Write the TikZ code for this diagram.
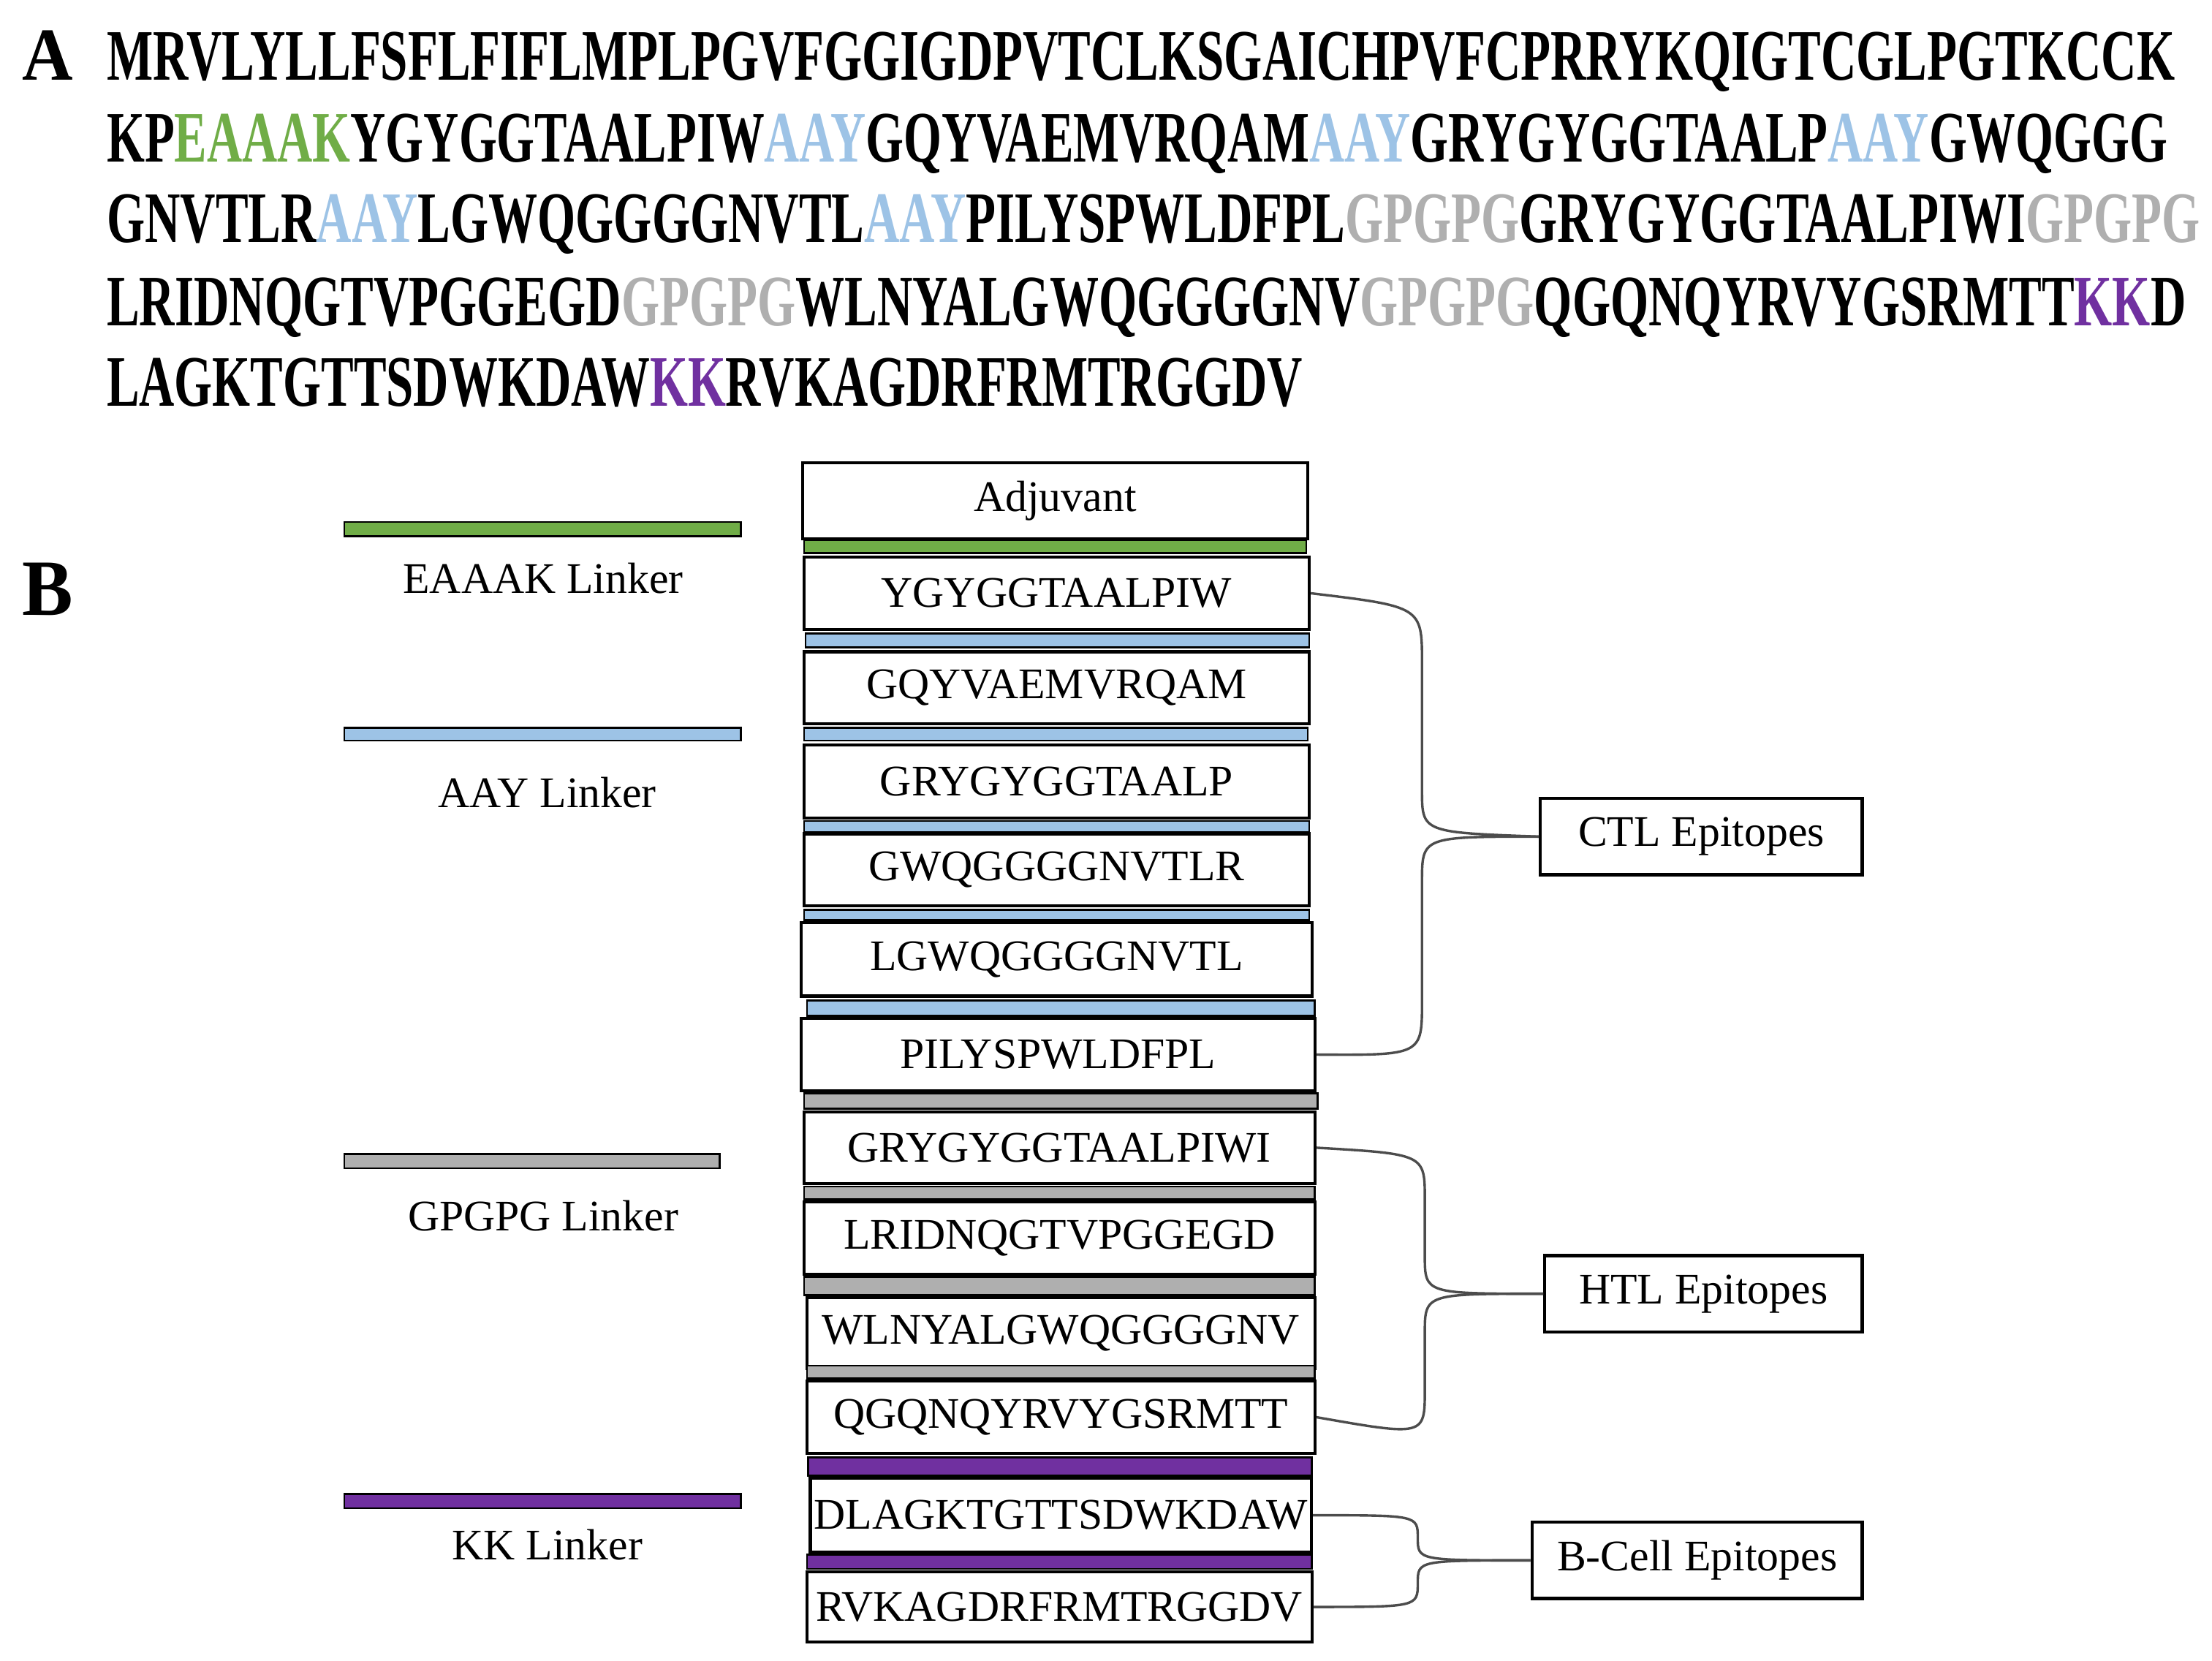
\documentclass[tikz,border=0pt]{standalone}
\usepackage{fontspec}
\setmainfont{Liberation Serif}
\usepackage{graphicx}
\definecolor{lg}{RGB}{112,173,71}
\definecolor{lb}{RGB}{157,195,230}
\definecolor{gy}{RGB}{175,175,175}
\definecolor{pu}{RGB}{112,48,160}
\newcommand{\G}[1]{\textcolor{lg}{#1}}
\newcommand{\Bl}[1]{\textcolor{lb}{#1}}
\newcommand{\Gy}[1]{\textcolor{gy}{#1}}
\newcommand{\Pu}[1]{\textcolor{pu}{#1}}
\begin{document}
\begin{tikzpicture}[x=0.01cm,y=-0.01cm,
 box/.style={draw,line width=0.6pt,minimum width=3.58cm,inner sep=0,font=\fontsize{8.8}{10}\selectfont},
 bar/.style={draw=black,line width=0.4pt},
 lbl/.style={font=\fontsize{8.8}{10}\selectfont},
 seq/.style={anchor=base west,inner sep=0},
 br/.style={line width=0.5pt,draw=black!70}]
\useasboundingbox (0,0) rectangle (1568,1177);
\node[anchor=base west,inner sep=0] (A) at (15,57) {\resizebox{0.36cm}{0.35cm}{\textbf{A}}};
\node[anchor=base west,inner sep=0] (B) at (15,436) {\resizebox{0.36cm}{0.37cm}{\textbf{B}}};
\node[seq] (l1) at (75,57) {\resizebox{14.65cm}{0.34cm}{\textbf{MRVLYLLFSFLFIFLMPLPGVFGGIGDPVTCLKSGAICHPVFCPRRYKQIGTCGLPGTKCCK}}};
\node[seq] (l2) at (75,115) {\resizebox{14.6cm}{0.34cm}{\textbf{KP\G{EAAAK}YGYGGTAALPIW\Bl{AAY}GQYVAEMVRQAM\Bl{AAY}GRYGYGGTAALP\Bl{AAY}GWQGGG}}};
\node[seq] (l3) at (75,172) {\resizebox{14.83cm}{0.34cm}{\textbf{GNVTLR\Bl{AAY}LGWQGGGGNVTL\Bl{AAY}PILYSPWLDFPL\Gy{GPGPG}GRYGYGGTAALPIWI\Gy{GPGPG}}}};
\node[seq] (l4) at (75,231) {\resizebox{14.73cm}{0.34cm}{\textbf{LRIDNQGTVPGGEGD\Gy{GPGPG}WLNYALGWQGGGGNV\Gy{GPGPG}QGQNQYRVYGSRMTT\Pu{KK}D}}};
\node[seq] (l5) at (75,288) {\resizebox{8.47cm}{0.34cm}{\textbf{LAGKTGTTSDWKDAW\Pu{KK}RVKAGDRFRMTRGGDV}}};
% column
\node[box,minimum height=0.54cm] (adj) at (748,355) {Adjuvant};
\fill[lg,bar] (570,383) rectangle (926,392);
\node[box,minimum height=0.51cm] (e1) at (749,420.5) {YGYGGTAALPIW};
\fill[lb,bar] (571,449) rectangle (928,459);
\node[box,minimum height=0.51cm] (e2) at (749,487.5) {GQYVAEMVRQAM};
\fill[lb,bar] (570,516) rectangle (927,525);
\node[box,minimum height=0.52cm] (e3) at (749,554) {GRYGYGGTAALP};
\fill[lb,bar] (570,582) rectangle (928,590);
\node[box,minimum height=0.51cm] (e4) at (749,616.5) {GWQGGGGNVTLR};
\fill[lb,bar] (570,645) rectangle (928,652);
\node[box,minimum height=0.52cm,minimum width=3.62cm] (e5) at (749,680) {LGWQGGGGNVTL};
\fill[lb,bar] (572,709) rectangle (932,720);
\node[box,minimum height=0.51cm,minimum width=3.64cm] (e6) at (750,747.5) {PILYSPWLDFPL};
\fill[gy,bar] (570,775) rectangle (934,786);
\node[box,minimum height=0.51cm,minimum width=3.62cm] (h1) at (751,813.5) {GRYGYGGTAALPIWI};
\fill[gy,bar] (570,841) rectangle (932,850);
\node[box,minimum height=0.51cm,minimum width=3.62cm] (h2) at (751,877.5) {LRIDNQGTVPGGEGD};
\fill[gy,bar] (570,905) rectangle (932,918);
\node[box,minimum height=0.50cm,minimum width=3.6cm] (h3) at (752,945) {WLNYALGWQGGGGNV};
\fill[gy,bar] (572,968) rectangle (932,977);
\node[box,minimum height=0.51cm,minimum width=3.6cm] (h4) at (752,1004.5) {QGQNQYRVYGSRMTT};
\fill[pu,bar] (573,1033) rectangle (930,1046);
\node[box,minimum height=0.52cm,minimum width=3.55cm] (b1) at (752,1074) {DLAGKTGTTSDWKDAW};
\fill[pu,bar] (572,1102) rectangle (930,1112);
\node[box,minimum height=0.50cm,minimum width=3.58cm] (b2) at (751,1139) {RVKAGDRFRMTRGGDV};
% legend
\fill[lg,bar] (244,370) rectangle (525,380);
\node[lbl] (t1) at (385,410) {EAAAK Linker};
\fill[lb,bar] (244,516) rectangle (525,525);
\node[lbl] (t2) at (388,562) {AAY Linker};
\fill[gy,bar] (244,818) rectangle (510,828);
\node[lbl] (t3) at (385,862) {GPGPG Linker};
\fill[pu,bar] (244,1059) rectangle (525,1069);
\node[lbl] (t4) at (388,1095) {KK Linker};
% epitope labels
\node[box,minimum width=2.28cm,minimum height=0.54cm] (ctl) at (1206,593) {CTL Epitopes};
\node[box,minimum width=2.25cm,minimum height=0.54cm] (htl) at (1207.5,917) {HTL Epitopes};
\node[box,minimum width=2.34cm,minimum height=0.54cm] (bce) at (1203,1106) {B-Cell Epitopes};
% braces
\draw[br] (e1.east) .. controls (1008,430) .. (1008,470) -- (1008,560)
  .. controls (1008,590) .. (ctl.west);
\draw[br] (e6.east) .. controls (1008,748) .. (1008,710) -- (1008,625)
  .. controls (1008,593) .. (ctl.west);
\draw[br] (h1.east) .. controls (1010,818) .. (1010,850) -- (1010,890)
  .. controls (1010,917) .. (htl.west);
\draw[br] (h4.east) .. controls (1010,1018) .. (1010,985) -- (1010,945)
  .. controls (1010,917) .. (htl.west);
\draw[br] (b1.east) .. controls (1005,1074) .. (1005,1090)
  .. controls (1005,1106) .. (bce.west);
\draw[br] (b2.east) .. controls (1005,1139) .. (1005,1122)
  .. controls (1005,1106) .. (bce.west);
\end{tikzpicture}
\end{document}
